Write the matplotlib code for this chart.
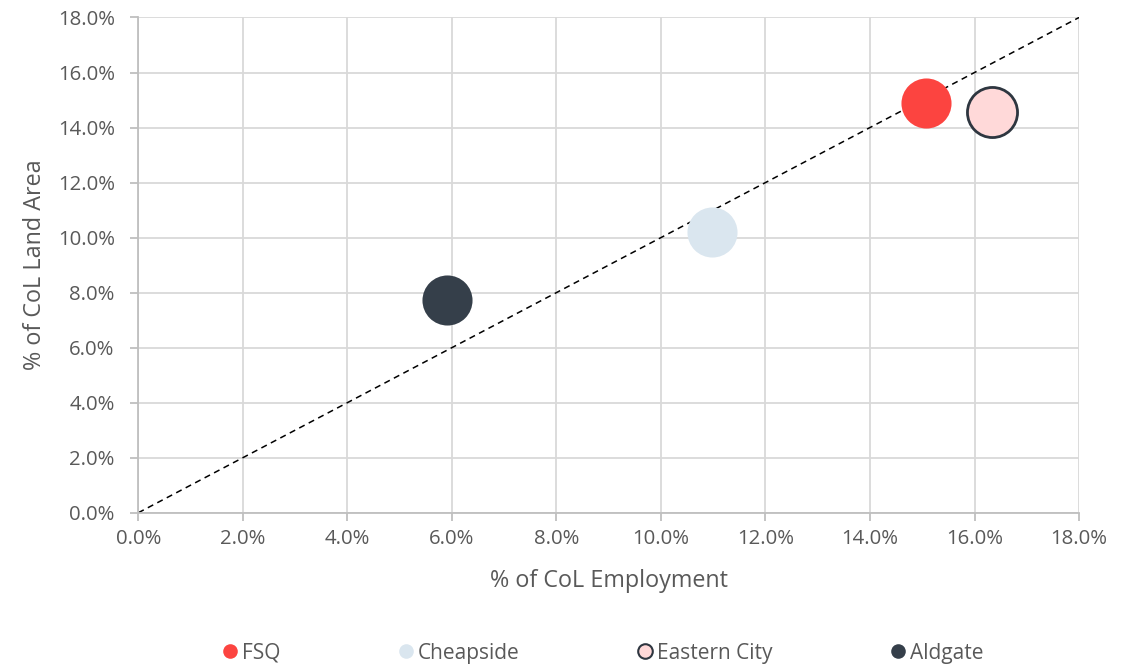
import matplotlib.pyplot as plt
from matplotlib.ticker import PercentFormatter
from matplotlib.lines import Line2D

plt.rcParams['font.family'] = ['Open Sans', 'DejaVu Sans']

# share of City of London employment vs land area, by area (%)
areas = ['FSQ', 'Cheapside', 'Eastern City', 'Aldgate']
employment = [15.08, 10.97, 16.34, 5.90]
land_area = [14.89, 10.21, 14.55, 7.74]
fills = ['#FC4440', '#DAE6EF', '#FFD9D9', '#353F4A']
edges = ['#FC4440', '#DAE6EF', '#2E3640', '#353F4A']
edge_widths = [0, 0, 2.0, 0]

ticks = [0, 2, 4, 6, 8, 10, 12, 14, 16, 18]
text_grey = '#595959'

fig = plt.figure(figsize=(11.35, 6.65), dpi=100)
ax = fig.add_axes([0.1219, 0.229, 0.8288, 0.7447])

ax.plot([0, 18], [0, 18], color='black', linestyle=(0, (4, 3)), linewidth=1.1, zorder=2)

for i, name in enumerate(areas):
    ax.scatter(employment[i], land_area[i], s=1300, color=fills[i],
               edgecolors=edges[i], linewidths=edge_widths[i], zorder=3, label=name)

ax.set_xlim(0, 18)
ax.set_ylim(0, 18)
ax.set_xticks(ticks)
ax.set_yticks(ticks)
ax.xaxis.set_major_formatter(PercentFormatter(decimals=1))
ax.yaxis.set_major_formatter(PercentFormatter(decimals=1))
ax.grid(True, color='#D9D9D9', linewidth=1.3, zorder=0)
ax.set_axisbelow(True)

for side in ['top', 'right']:
    ax.spines[side].set_visible(False)
for side in ['left', 'bottom']:
    ax.spines[side].set_color('#BFBFBF')
    ax.spines[side].set_linewidth(1.3)

ax.tick_params(axis='both', colors='#BFBFBF', labelcolor=text_grey, labelsize=14.7,
               length=6, width=1.3, direction='out')
ax.tick_params(axis='x', pad=6)
ax.tick_params(axis='y', pad=11)

ax.set_xlabel('% of CoL Employment', fontsize=16.8, color=text_grey, labelpad=14)
ax.set_ylabel('% of CoL Land Area', fontsize=16.8, color=text_grey, labelpad=8)

handles = [Line2D([0], [0], marker='o', linestyle='none', markersize=10.5,
                  markerfacecolor=fills[i], markeredgecolor=edges[i],
                  markeredgewidth=1.5 if edge_widths[i] else 0) for i in range(len(areas))]
fig.legend(handles, areas, loc='center', bbox_to_anchor=(0.53, 0.018), ncol=4,
           frameon=False, fontsize=15, labelcolor=text_grey, handletextpad=0.1,
           columnspacing=5.5, handlelength=1.0)

fig.savefig('out.png', dpi=100)
